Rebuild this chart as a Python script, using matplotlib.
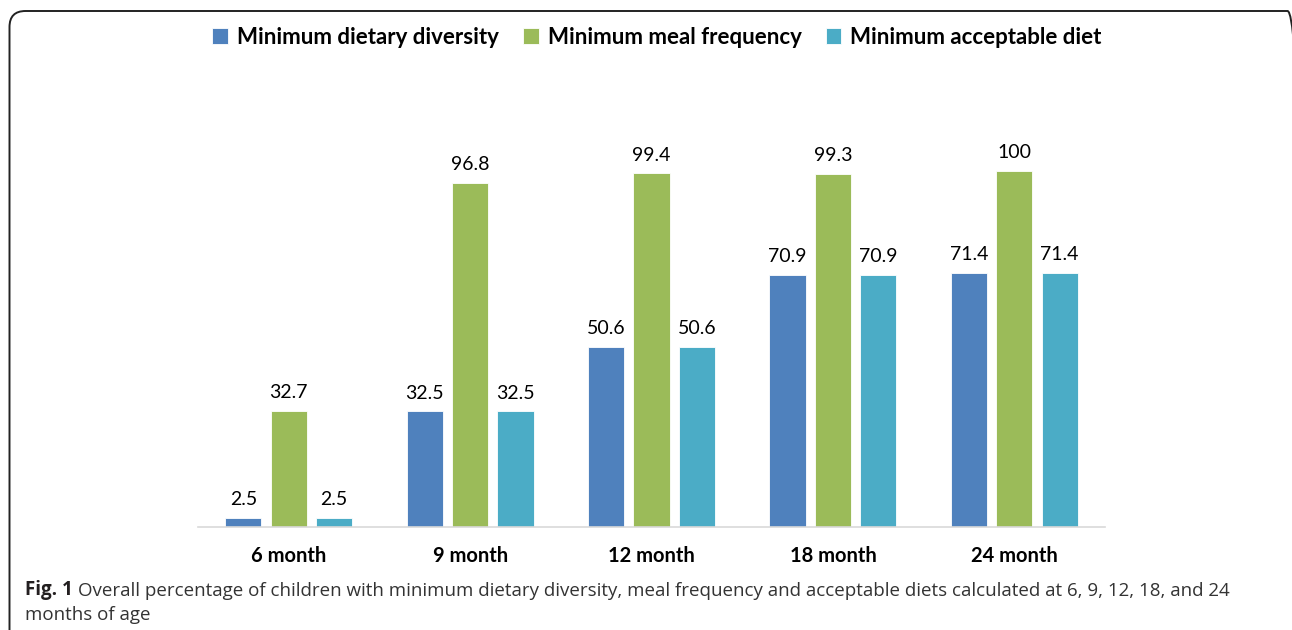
import numpy as np
import matplotlib
matplotlib.use("Agg")
from matplotlib import pyplot as plt
from matplotlib.patches import FancyBboxPatch
from matplotlib.transforms import IdentityTransform

# data
ages = ["6 month", "9 month", "12 month", "18 month", "24 month"]
dietary_diversity = [2.5, 32.5, 50.6, 70.9, 71.4]
meal_frequency = [32.7, 96.8, 99.4, 99.3, 100]
acceptable_diet = [2.5, 32.5, 50.6, 70.9, 71.4]
series_names = ["Minimum dietary diversity", "Minimum meal frequency", "Minimum acceptable diet"]
colors = ["#4F81BD", "#9BBB59", "#4BACC6"]

W, H = 1292, 630
fig = plt.figure(figsize=(W/100, H/100), dpi=100)
ax = fig.add_axes([198/W, 103/H, 907/W, 427/H])

chart_font = "Lato"
x = np.arange(len(ages))
width = 0.2
offset = 0.25
all_series = [dietary_diversity, meal_frequency, acceptable_diet]
bars = []
for i, vals in enumerate(all_series):
    b = ax.bar(x + (i - 1)*offset, vals, width, color=colors[i],
               edgecolor="white", linewidth=0.6, label=series_names[i], zorder=2)
    bars.append(b)
    for xi, v in zip(x + (i - 1)*offset, vals):
        ax.annotate(f"{v:g}", xy=(xi, v), xytext=(0, 7), textcoords="offset points",
                    ha="center", va="bottom", fontsize=14, family=chart_font, color="#000000")

ax.set_xlim(-0.5, 4.5)
ax.set_ylim(0, 120)
ax.set_yticks([])
ax.set_xticks(x)
ax.set_xticklabels(ages, fontsize=14.5, fontweight="bold", family=chart_font)
ax.tick_params(axis="x", length=0, pad=14)
for s in ["top", "right", "left"]:
    ax.spines[s].set_visible(False)
ax.spines["bottom"].set_color("#D9D9D9")
ax.spines["bottom"].set_linewidth(1.2)

fig.legend(bars, series_names, loc="center", bbox_to_anchor=(657/W, 1 - 37/H),
           ncol=3, frameon=False, handlelength=0.7, handleheight=0.7,
           handletextpad=0.4, columnspacing=1.1,
           prop={"family": chart_font, "weight": "bold", "size": 16})

# rounded frame around the chart panel (right and bottom sides run off the picture)
frame = FancyBboxPatch((9.5, -40), 1294, H - 11 + 40,
                       boxstyle="round,pad=0,rounding_size=16",
                       transform=IdentityTransform(), fill=False,
                       edgecolor="#222222", linewidth=1.4)
fig.patches.append(frame)

# caption
cap_font = "Open Sans"
fig_lbl = fig.text(25/W, 1 - 595/H, "Fig. 1", fontsize=13.5, fontweight="bold",
                   family=cap_font, color="#231F20", va="baseline")
ax.annotate("Overall percentage of children with minimum dietary diversity, meal frequency and acceptable diets calculated at 6, 9, 12, 18, and 24",
            xy=(1, 0), xycoords=fig_lbl, xytext=(4, 0), textcoords="offset points",
            fontsize=13.5, family=cap_font, color="#333333", va="bottom", annotation_clip=False)
fig.text(25/W, 1 - 620/H, "months of age", fontsize=13.5, family=cap_font,
         color="#333333", va="baseline")

fig.savefig("out.png", dpi=100)
